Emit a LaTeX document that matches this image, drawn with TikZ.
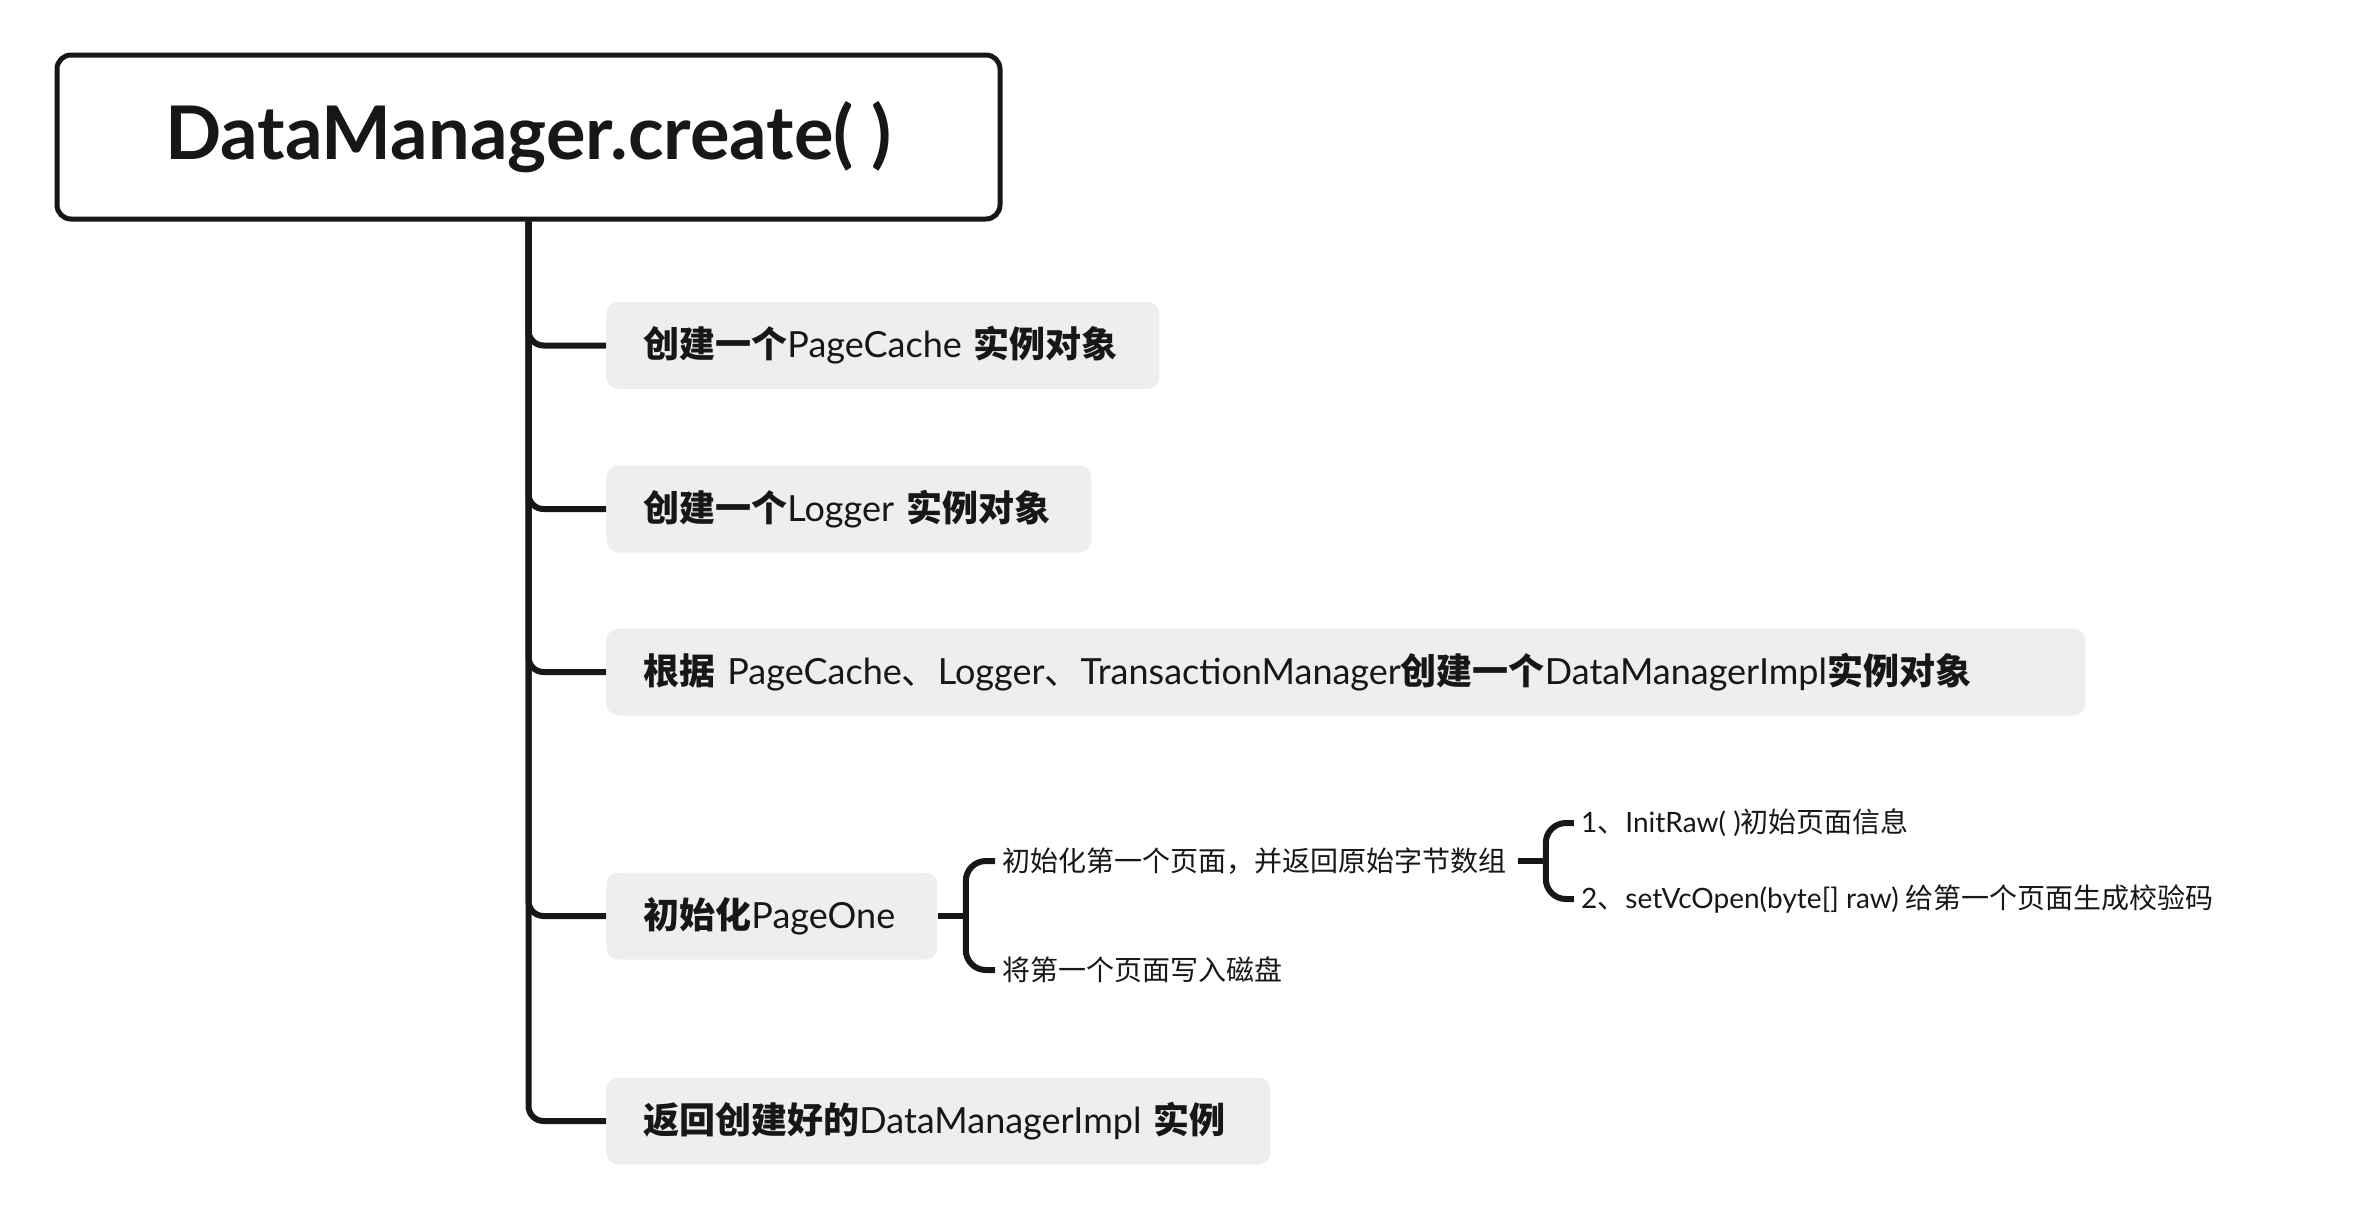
\documentclass[tikz,border=0pt]{standalone}
\usepackage{fontspec}
\setmainfont{Lato}
\newfontfamily\cjk{Noto Sans CJK SC}
\newcommand\zb[1]{{\cjk\bfseries #1}}
\newcommand\zr[1]{{\cjk #1}}
\definecolor{ink}{HTML}{171717}
\definecolor{pale}{HTML}{EEEEEE}
\tikzset{
  conn/.style={draw=ink,line width=3pt,rounded corners=7.5pt},
  topic/.style={draw=ink,line width=2.5pt,rounded corners=7pt,minimum width=471.5pt,minimum height=82pt,
    font=\bfseries\fontsize{37}{44}\selectfont,text=ink},
  branch/.style={fill=pale,rounded corners=6pt,anchor=west,minimum height=43.5pt,inner xsep=18.5pt,
    align=left,font=\fontsize{18}{22}\selectfont,text=ink},
  sub/.style={anchor=west,inner xsep=3.5pt,font=\fontsize{14}{17}\selectfont,text=ink},
}
\begin{document}
\begin{tikzpicture}[x=0.5pt,y=-0.5pt]
\useasboundingbox (0,0) rectangle (2368,1216);
\node[topic] (title) at (528.5,137) {DataManager.create( )};
\node[branch,text width=239.5pt] (pc) at (606,345.5) {\zb{创建一个}PageCache \zb{实例对象}};
\node[branch,text width=205.5pt] (log) at (606,509) {\zb{创建一个}Logger \zb{实例对象}};
\node[branch,text width=702.5pt] (impl) at (606,672) {\zb{根据} PageCache\zr{、}Logger\zr{、}TransactionManager\zb{创建一个}DataManagerImpl\zb{实例对象}};
\node[branch,text width=128.5pt] (p1) at (606,916) {\zb{初始化}PageOne};
\node[branch,text width=295pt] (ret) at (606,1121) {\zb{返回创建好的}DataManagerImpl \zb{实例}};
\foreach \n in {pc,log,impl,p1,ret}
  \draw[conn] (title.south) |- (\n.west);
\node[sub] (s1) at (995,861) {\zr{初始化第一个页面，并返回原始字节数组}};
\node[sub] (s2) at (995,970) {\zr{将第一个页面写入磁盘}};
\coordinate (k1) at ([xshift=14pt]p1.east);
\draw[conn] (p1.east) -- (k1);
\draw[conn,rounded corners=10pt] (s1.west) -| (k1) |- (s2.west);
\coordinate (k2) at ([xshift=16pt]s1.east);
\node[sub] (l1) at ([xshift=14pt]k2 |- 0,823) {1\zr{、}InitRaw( )\zr{初始页面信息}};
\node[sub] (l2) at ([xshift=14pt]k2 |- 0,899) {2\zr{、}setVcOpen(byte[] raw) \zr{给第一个页面生成校验码}};
\draw[conn] ([xshift=2pt]s1.east) -- (k2);
\draw[conn,rounded corners=10pt] (l1.west) -| (k2) |- (l2.west);
\end{tikzpicture}
\end{document}
